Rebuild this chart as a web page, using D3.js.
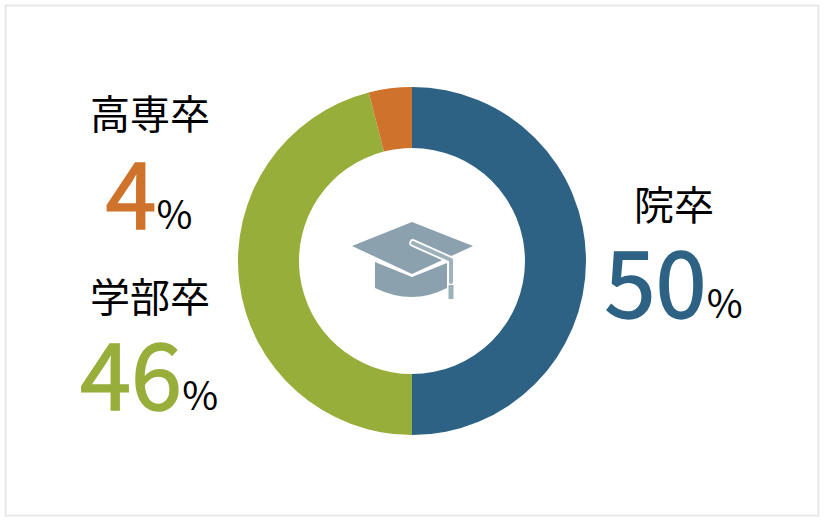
<!DOCTYPE html>
<html>
<head>
<meta charset="utf-8">
<script src="https://cdn.jsdelivr.net/npm/d3@7"></script>
<style>
  html, body { margin: 0; padding: 0; background: #fff; }
  svg { display: block; }
  text { font-family: "Noto Sans CJK JP", sans-serif; }
</style>
</head>
<body>
<div id="chart"></div>
<script>
// Share by final education, clockwise from 12 o'clock
const categories = ['院卒', '学部卒', '高専卒'];
const shares = [50, 46, 4];
const colors = ['#2d6285', '#98ae3b', '#cf732c'];

const width = 826;
const height = 522;
const cx = 412;
const cy = 261;

const svg = d3.select('#chart').append('svg').attr('width', width).attr('height', height);

// Outer frame
svg.append('rect')
  .attr('x', 5.5).attr('y', 5.5)
  .attr('width', 813).attr('height', 510)
  .attr('fill', '#fff')
  .attr('stroke', '#e6e8ea')
  .attr('stroke-width', 2);

const pie = d3.pie().sort(null).value((d) => d.share);
const arc = d3.arc().innerRadius(113).outerRadius(174);
const rows = categories.map((name, i) => ({ name, share: shares[i], color: colors[i] }));

svg.append('g')
  .attr('transform', `translate(${cx},${cy})`)
  .selectAll('path')
  .data(pie(rows))
  .join('path')
  .attr('fill', (d) => d.data.color)
  .attr('d', arc);

// Label anchors per category, same order as categories
const labelPos = [
  { x: 674, nameY: 220, valueY: 318, valueX: 604.5 },
  { x: 150, nameY: 312, valueY: 410, valueX: 80 },
  { x: 150, nameY: 129, valueY: 229, valueX: 105.5 },
];

rows.forEach((d, i) => {
  const p = labelPos[i];
  svg.append('text')
    .attr('x', p.x).attr('y', p.nameY)
    .attr('text-anchor', 'middle')
    .attr('font-size', 40)
    .attr('fill', '#000')
    .text(d.name);
  const t = svg.append('text').attr('x', p.valueX).attr('y', p.valueY);
  t.append('tspan')
    .attr('font-size', 92)
    .attr('fill', d.color)
    .attr('stroke', d.color)
    .attr('stroke-width', 1.4)
    .text(d.share);
  t.append('tspan')
    .attr('font-size', 39)
    .attr('fill', '#000')
    .text('%');
});

// Graduation cap icon
const capColor = '#8ba2ae';
const cap = svg.append('g');
cap.append('path').attr('fill', capColor).attr('d', 'M352,246 L412,222 L473,246 L412,274 Z');
cap.append('path').attr('fill', capColor).attr('d', 'M375,262 L412,277 L447,263 L447,288 Q412,306 375,288 Z');
cap.append('path').attr('fill', 'none').attr('stroke', '#fff').attr('stroke-width', 7.5)
  .attr('stroke-linecap', 'round').attr('stroke-linejoin', 'round')
  .attr('d', 'M413,243 L451,260 L451,298');
cap.append('path').attr('fill', 'none').attr('stroke', '#9db1bb').attr('stroke-width', 4)
  .attr('stroke-linecap', 'round').attr('stroke-linejoin', 'round')
  .attr('d', 'M413,243 L451,260 L451,282');
cap.append('path').attr('fill', 'none').attr('stroke', '#9db1bb').attr('stroke-width', 5)
  .attr('d', 'M451,285 L451,299');
</script>
</body>
</html>
